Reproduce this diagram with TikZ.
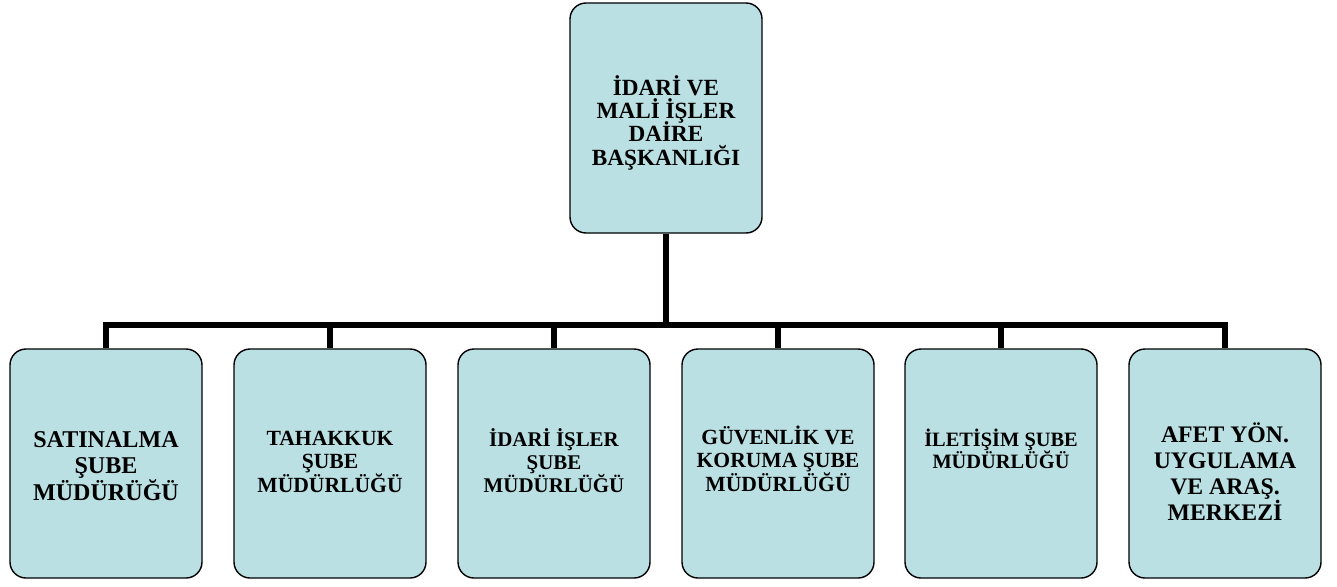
\documentclass[tikz,border=0pt]{standalone}
\usepackage{fontspec}
\setmainfont{Liberation Serif}
\usepackage{xcolor}
\usepackage{tikz}
\usetikzlibrary{positioning}
\definecolor{boxteal}{HTML}{BBE0E3}
\newcommand\headfont{\bfseries\fontsize{13.2}{13.2}\selectfont\setlength\lineskiplimit{-20pt}}

\begin{document}
\begin{tikzpicture}[
  unit/.style={draw, line width=0.8pt, fill=boxteal, rounded corners=0.32cm,
               minimum width=3.84cm, minimum height=4.58cm},
  unittext/.style={anchor=base, align=center,
                   font=\bfseries\fontsize{#1}{1.09\dimexpr#1pt\relax}\selectfont},
  unittext/.default=12.3,
  headtext/.style={anchor=base, align=center, font=\headfont},
  link/.style={line width=3.6pt}
]
\useasboundingbox (0,0) rectangle (26.74,-11.72);

% daire baskanligi
\node[unit, minimum height=4.6cm] (head) at (13.32,-2.36) {};
\node[headtext] (headlbl) at (13.32,-3.3) {İDARİ VE\\MALİ İŞLER\\DAİRE\\BAŞKANLIĞI};

% sube mudurlukleri
\node[unit] (b1) at (2.12,-9.27) {};
\node[unit] (b2) at (6.6,-9.27) {};
\node[unit] (b3) at (11.08,-9.27) {};
\node[unit] (b4) at (15.56,-9.27) {};
\node[unit] (b5) at (20.02,-9.27) {};
\node[unit] (b6) at (24.5,-9.27) {};

% (base = last line)
\node[unittext=13.7] (t1) at (2.12,-10.0) {SATINALMA\\ŞUBE\\MÜDÜRÜĞÜ};
\node[unittext] (t2) at (6.6,-9.85) {TAHAKKUK\\ŞUBE\\MÜDÜRLÜĞÜ};
\node[unittext=11.9] (t3) at (11.08,-9.85) {İDARİ İŞLER\\ŞUBE\\MÜDÜRLÜĞÜ};
\node[unittext] (t4) at (15.56,-9.83) {GÜVENLİK VE\\KORUMA ŞUBE\\MÜDÜRLÜĞÜ};
\node[unittext=11.6] (t5) at (20.02,-9.37) {İLETİŞİM ŞUBE\\MÜDÜRLÜĞÜ};
\node[unittext=13.5] (t6) at (24.5,-10.4) {AFET YÖN.\\UYGULAMA\\VE ARAŞ.\\MERKEZİ};

% baglantilar
\coordinate (hub) at (head.south |- 0,-6.5);
\draw[link] (head.south) -- (hub);
\draw[link] (b1.north) -- (b1.north |- hub) -- (b6.north |- hub) -- (b6.north);
\foreach \b in {b2,b3,b4,b5}
  \draw[link] (\b.north |- hub) -- (\b.north);

\end{tikzpicture}
\end{document}
